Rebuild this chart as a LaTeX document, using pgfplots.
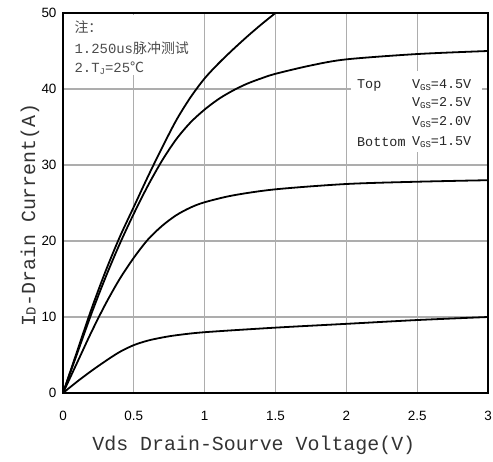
\documentclass[border=0pt]{standalone}
\usepackage{fontspec}
\usepackage{pgfplots}
\pgfplotsset{compat=1.18}
\newfontfamily\tickf{Liberation Sans}
\newfontfamily\labf{Liberation Mono}
\newfontfamily\cjk{Noto Sans CJK SC}

\pgfplotsset{curve/.style={black, line width=1.8bp, smooth, no marks}}

\begin{document}
\begin{tikzpicture}
\begin{axis}[
    name=ax,
    scale only axis,
    width=425bp, height=380bp,
    xmin=0, xmax=3, ymin=0, ymax=50,
    xtick={0,0.5,...,3}, ytick={0,10,...,50},
    xticklabels={0,0.5,1,1.5,2,2.5,3},
    major tick length=0pt,
    grid=major,
    major grid style={line width=1.2bp, black!32},
    axis line style={line width=2.4bp},
    /pgf/number format/assume math mode=true,
    tick label style={font=\tickf\fontsize{13.5}{14}\selectfont},
    xticklabel style={yshift=-15bp},
    yticklabel style={xshift=-3bp},
    xlabel={Vds Drain-Sourve Voltage(V)},
    ylabel={I\raisebox{-0.5bp}{\fontsize{14}{14}\selectfont D}-Drain Current(A)},
    xlabel style={font=\labf\fontsize{20}{22}\selectfont, text=black!80,
        at={(axis description cs:0.449,-0.137)}, anchor=center},
    ylabel style={font=\labf\fontsize{20}{22}\selectfont, text=black!80,
        at={(axis description cs:-0.0776,0.468)}, anchor=center},
]
% VGS = 4.5 V
\addplot[curve] coordinates {(0,0) (0.1,5.5) (0.2,11) (0.3,16) (0.4,20.5) (0.5,24.5)
  (0.6,28.5) (0.7,32.3) (0.8,35.9) (0.9,38.9) (1.0,41.4) (1.1,43.4) (1.2,45.2)
  (1.3,46.9) (1.4,48.5) (1.5,50) (1.55,50.75)};
% VGS = 2.5 V
\addplot[curve] coordinates {(0,0) (0.1,5.2) (0.2,10.4) (0.3,15.2) (0.4,19.6) (0.5,23.6)
  (0.6,27.3) (0.7,30.6) (0.8,33.4) (0.9,35.6) (1.0,37.3) (1.1,38.7) (1.2,39.8)
  (1.3,40.7) (1.4,41.4) (1.5,42.0) (1.75,43.1) (2.0,43.9) (2.5,44.6) (3.0,45)};
% VGS = 2.0 V
\addplot[curve] coordinates {(0,0) (0.1,4) (0.2,8) (0.3,11.7) (0.4,15) (0.5,17.8)
  (0.6,20.2) (0.7,22) (0.8,23.4) (0.9,24.4) (1.0,25.1) (1.2,26) (1.5,26.8)
  (2.0,27.5) (2.5,27.8) (3.0,28)};
% VGS = 1.5 V
\addplot[curve] coordinates {(0,0) (0.1,1.5) (0.2,2.9) (0.3,4.2) (0.4,5.4) (0.5,6.3)
  (0.6,6.9) (0.7,7.3) (0.8,7.6) (1.0,8) (1.5,8.6) (2.0,9.1) (2.5,9.6) (3.0,10)};

% notes
\fill[white] (axis cs:0.015,49.7) rectangle (axis cs:0.96,41.8);
\node[anchor=west, text=black!70, font=\labf\fontsize{14}{14}\selectfont, inner sep=0pt]
  at (axis cs:0.08,48.1) {\cjk 注：};
\node[anchor=west, text=black!70, font=\labf\fontsize{14}{14}\selectfont, inner sep=0pt]
  at (axis cs:0.08,45.4) {1.250us{\cjk 脉冲测试}};
\node[anchor=west, text=black!70, font=\labf\fontsize{14}{14}\selectfont, inner sep=0pt]
  at (axis cs:0.08,42.7) {2.T\raisebox{-2bp}{\fontsize{9}{9}\selectfont J}=25{\cjk ℃}};

\fill[white] (axis cs:2.03,42.4) rectangle (axis cs:2.96,31.7);
\begin{scope}[every node/.style={anchor=west, inner sep=0pt, text=black!85,
    font=\labf\fontsize{13.5}{14}\selectfont}]
\node at (axis cs:2.075,40.5) {Top};
\node at (axis cs:2.075,33.0) {Bottom};
\node at (axis cs:2.463,40.5) {V\raisebox{-2bp}{\fontsize{9}{9}\selectfont GS}=4.5V};
\node at (axis cs:2.463,38.1) {V\raisebox{-2bp}{\fontsize{9}{9}\selectfont GS}=2.5V};
\node at (axis cs:2.463,35.6) {V\raisebox{-2bp}{\fontsize{9}{9}\selectfont GS}=2.0V};
\node at (axis cs:2.463,33.0) {V\raisebox{-2bp}{\fontsize{9}{9}\selectfont GS}=1.5V};
\end{scope}
\end{axis}
\pgfresetboundingbox
\path[use as bounding box] ([shift={(-63bp,-69bp)}]ax.south west) rectangle ([shift={(5bp,13bp)}]ax.north east);
\end{tikzpicture}
\end{document}
